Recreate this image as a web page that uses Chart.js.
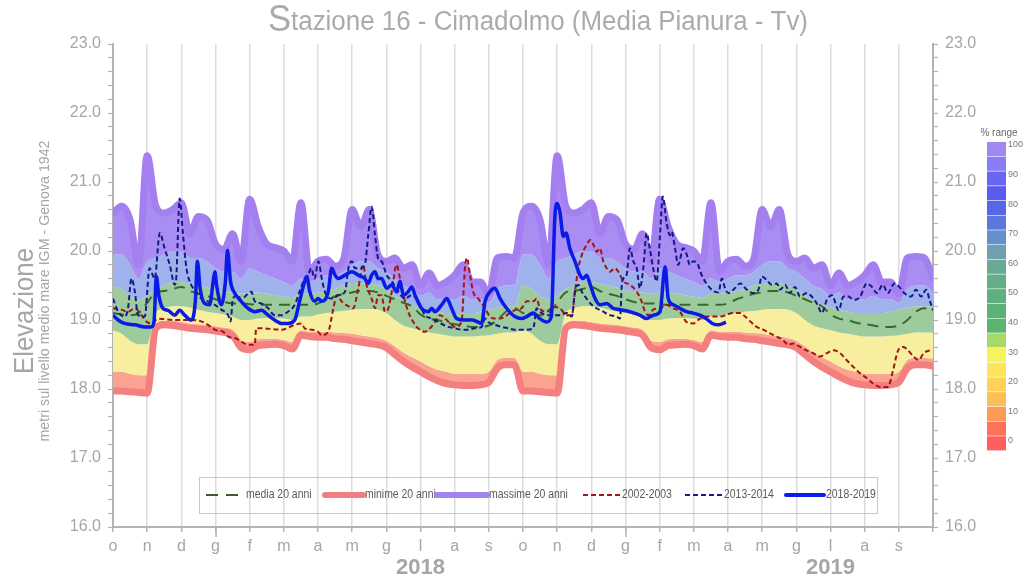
<!DOCTYPE html>
<html><head><meta charset="utf-8">
<script src="https://cdn.jsdelivr.net/npm/chart.js@4.4.0/dist/chart.umd.min.js"></script>
<style>html,body{margin:0;padding:0;background:#fff;}canvas{display:block;}</style>
</head><body>
<canvas id="c" width="1023" height="586"></canvas>
<script>
// ---------- DATA ----------
const chartTitle = 'Stazione 16 - Cimadolmo (Media Pianura - Tv)';
const yTitle = 'Elevazione';
const ySubTitle = 'metri sul livello medio mare IGM - Genova 1942';
const monthLetters = ['o','n','d','g','f','m','a','m','g','l','a','s'];
const yearLabels = ['2018','2019'];
const yearLabelMonths = [9, 21];
const rangeLabels = ['100','90','80','70','60','50','40','30','20','10','0'];
const bandStep = 0.25; // months between band samples (one hydrological year, Oct -> Oct)

const minYear = [17.97,17.97,17.96,17.95,17.94,18.88,18.93,18.92,18.90,18.88,18.87,18.86,18.84,18.82,18.78,18.60,18.57,18.63,18.64,18.65,18.63,18.58,18.78,18.76,18.75,18.75,18.73,18.72,18.70,18.68,18.66,18.64,18.60,18.50,18.40,18.32,18.25,18.18,18.12,18.08,18.06,18.05,18.05,18.06,18.10,18.30,18.35,18.35,18.33];
const p15Year = [18.25,18.25,18.22,18.20,18.20,18.95,18.99,18.99,18.97,18.95,18.94,18.93,18.91,18.89,18.86,18.70,18.68,18.72,18.73,18.73,18.71,18.68,18.85,18.83,18.83,18.83,18.82,18.81,18.80,18.78,18.76,18.74,18.70,18.62,18.53,18.46,18.40,18.33,18.28,18.25,18.22,18.22,18.22,18.22,18.25,18.42,18.45,18.45,18.44];
const p35Year = [18.85,18.80,18.70,18.65,18.65,19.10,19.17,19.20,19.20,19.18,19.15,19.12,19.10,19.08,19.05,19.00,19.00,19.02,19.03,19.03,19.02,19.00,19.05,19.05,19.08,19.10,19.12,19.13,19.15,19.16,19.16,19.15,19.10,19.00,18.92,18.88,18.85,18.82,18.80,18.78,18.76,18.76,18.76,18.77,18.78,18.80,18.82,18.82,18.82];
const p60Year = [19.50,19.45,19.35,19.30,19.35,19.45,19.50,19.55,19.55,19.52,19.50,19.47,19.43,19.40,19.40,19.38,19.40,19.40,19.38,19.36,19.34,19.32,19.38,19.38,19.40,19.42,19.45,19.50,19.52,19.53,19.53,19.50,19.45,19.35,19.28,19.22,19.18,19.15,19.12,19.10,19.10,19.10,19.10,19.12,19.15,19.18,19.20,19.20,19.20];
const p90Year = [19.95,19.95,19.80,19.60,19.85,19.90,19.95,20.00,20.00,19.90,19.90,19.85,19.75,19.70,19.70,19.60,19.75,19.70,19.65,19.60,19.55,19.50,19.60,19.55,19.60,19.65,19.65,19.70,19.80,19.85,19.85,19.75,19.70,19.60,19.50,19.45,19.35,19.40,19.30,19.30,19.30,19.35,19.30,19.30,19.25,19.45,19.50,19.50,19.40];
const maxYear = [20.55,20.65,20.45,19.80,21.38,20.65,20.55,20.60,20.70,20.25,20.50,20.45,20.10,20.02,20.25,19.85,20.75,20.35,20.10,20.05,20.00,19.85,20.70,19.70,19.85,19.88,19.78,19.88,20.60,20.35,20.60,19.95,19.85,19.90,19.75,19.80,19.50,19.68,19.50,19.55,19.65,19.80,19.55,19.55,19.38,19.90,19.92,19.90,19.60];
const mediaYear = [19.10,19.08,19.07,19.10,19.25,19.40,19.42,19.45,19.48,19.42,19.38,19.35,19.30,19.26,19.24,19.24,19.23,19.22,19.22,19.22,19.22,19.22,19.22,19.22,19.24,19.30,19.34,19.38,19.40,19.42,19.42,19.40,19.35,19.30,19.25,19.20,19.08,19.02,19.00,18.96,18.94,18.92,18.90,18.90,18.92,19.00,19.12,19.17,19.15];

const obs1819Months = [0.00,0.15,0.34,0.64,0.93,1.12,1.20,1.27,1.34,1.46,1.61,1.81,1.95,2.10,2.29,2.41,2.47,2.55,2.68,2.83,2.93,2.98,3.03,3.17,3.29,3.35,3.44,3.56,3.75,3.95,4.15,4.34,4.54,4.73,4.93,5.12,5.32,5.46,5.61,5.67,5.76,5.90,6.00,6.11,6.30,6.40,6.50,6.59,6.79,6.99,7.18,7.37,7.47,7.57,7.67,7.76,7.86,8.01,8.16,8.30,8.40,8.50,8.64,8.74,8.84,9.03,9.23,9.33,9.42,9.62,9.77,9.91,10.06,10.30,10.50,10.69,10.79,10.89,11.03,11.18,11.33,11.52,11.76,11.96,12.11,12.30,12.49,12.69,12.83,12.93,13.00,13.08,13.18,13.26,13.37,13.52,13.67,13.76,13.86,13.97,14.11,14.25,14.45,14.64,14.84,15.13,15.42,15.62,15.81,16.01,16.16,16.25,16.40,16.59,16.79,16.98,17.18,17.36,17.54,17.73,17.94];
const obs1819Levels = [19.07,19.00,18.95,18.93,18.90,18.90,18.97,19.63,19.36,19.17,19.14,19.07,19.14,19.07,19.00,19.27,19.85,19.46,19.24,19.22,19.55,19.70,19.51,19.22,19.56,20.01,19.56,19.39,19.27,19.17,19.12,19.14,19.07,19.00,18.95,18.95,19.00,19.27,19.56,19.63,19.41,19.27,19.31,19.27,19.41,19.75,19.65,19.60,19.65,19.70,19.65,19.60,19.53,19.65,19.70,19.60,19.60,19.46,19.51,19.41,19.56,19.36,19.41,19.48,19.36,19.17,19.12,19.17,19.12,19.22,19.31,19.17,19.02,19.00,19.00,18.97,18.95,19.27,19.41,19.46,19.31,19.17,19.05,19.02,19.05,19.10,19.02,18.97,19.05,20.47,20.69,20.57,20.21,20.26,20.04,19.85,19.65,19.60,19.65,19.51,19.31,19.22,19.24,19.17,19.15,19.12,19.07,19.02,19.07,19.12,19.77,19.31,19.22,19.17,19.12,19.10,19.07,19.02,18.95,18.93,18.97];

const y1314Months = [0.00,0.15,0.34,0.44,0.54,0.64,0.73,0.93,1.07,1.22,1.37,1.51,1.66,1.81,1.85,1.95,2.05,2.15,2.29,2.44,2.58,2.78,2.98,3.17,3.37,3.44,3.51,3.66,3.75,3.90,4.05,4.15,4.34,4.54,4.73,4.93,5.12,5.32,5.46,5.61,5.71,5.80,5.90,6.01,6.11,6.20,6.40,6.59,6.79,6.89,6.99,7.08,7.23,7.37,7.47,7.57,7.67,7.76,7.86,8.01,8.16,8.35,8.55,8.74,8.93,9.13,9.33,9.52,9.81,10.01,10.20,10.40,10.59,10.79,10.89,10.98,11.18,11.38,11.57,11.76,11.96,12.11,12.30,12.40,12.49,12.69,13.08,13.28,13.43,13.52,13.62,13.72,13.86,14.01,14.15,14.35,14.54,14.74,14.84,14.89,14.94,15.03,15.13,15.23,15.33,15.42,15.52,15.62,15.71,15.81,15.91,16.01,16.09,16.20,16.30,16.35,16.45,16.54,16.69,16.79,16.88,16.98,17.09,17.23,17.38,17.57,17.72,17.82,17.92,18.01,18.16,18.36,18.55,18.74,18.89,18.99,19.13,19.28,19.43,19.53,19.67,19.81,19.96,20.11,20.30,20.45,20.60,20.75,20.89,21.04,21.24,21.38,21.53,21.67,21.87,22.06,22.21,22.36,22.53,22.68,22.87,23.01,23.16,23.36,23.50,23.65,23.80,23.90,24.00];
const y1314Levels = [19.31,19.12,19.05,19.17,19.60,19.41,19.07,19.05,19.75,19.60,20.26,20.04,19.80,19.51,19.60,20.76,20.23,19.75,19.51,19.41,19.31,19.27,19.22,19.15,19.07,18.98,19.31,19.36,19.29,19.36,19.41,19.27,19.24,19.17,19.07,19.07,19.12,19.22,19.41,19.60,19.65,19.75,19.60,19.85,19.60,19.41,19.31,19.36,19.41,19.75,19.85,19.75,19.75,19.80,20.23,20.64,20.23,19.89,19.85,19.65,19.56,19.41,19.31,19.36,19.27,19.07,19.02,18.97,18.90,18.88,18.86,18.86,18.88,18.90,19.02,18.97,18.93,18.90,18.88,18.86,18.86,18.86,18.88,19.17,19.12,19.07,19.07,19.10,19.05,19.41,19.51,19.41,19.31,19.22,19.17,19.12,19.07,19.05,19.02,19.50,19.60,19.65,20.04,19.85,19.75,19.46,19.75,20.26,20.04,19.75,19.56,20.23,20.79,20.42,20.23,20.28,20.04,19.80,20.04,19.95,19.80,19.85,19.83,19.65,19.52,19.42,19.40,19.60,19.45,19.39,19.44,19.53,19.44,19.39,19.44,19.63,19.58,19.51,19.53,19.44,19.51,19.39,19.48,19.34,19.39,19.34,19.24,19.10,19.29,19.36,19.14,19.34,19.34,19.29,19.34,19.53,19.48,19.39,19.51,19.39,19.53,19.48,19.39,19.34,19.44,19.34,19.44,19.29,19.14];

const y0203Months = [0.00,0.24,0.44,0.64,0.83,0.97,1.12,1.32,1.81,2.29,2.58,2.78,2.98,3.22,3.37,3.61,3.75,3.95,4.15,4.19,4.34,4.93,5.32,5.51,5.61,5.80,6.00,6.11,6.30,6.45,6.55,6.69,6.89,7.03,7.18,7.32,7.42,7.57,7.67,7.76,7.86,7.96,8.06,8.16,8.30,8.40,8.50,8.64,8.79,8.93,9.13,9.28,9.42,9.57,9.72,9.91,10.01,10.20,10.30,10.36,10.45,10.54,10.69,10.89,11.03,11.18,11.33,11.47,11.67,11.81,11.96,12.11,12.30,12.40,12.49,12.69,12.89,13.08,13.28,13.43,13.52,13.62,13.72,13.86,13.97,14.06,14.16,14.25,14.35,14.45,14.54,14.69,14.79,14.94,15.13,15.33,15.47,15.57,15.67,15.81,16.01,16.20,16.40,16.59,16.79,16.98,17.18,17.38,17.77,18.15,18.36,18.50,18.65,18.84,19.03,19.22,19.42,19.61,19.76,19.91,20.11,20.30,20.49,20.68,20.89,21.08,21.28,21.47,21.67,21.86,22.06,22.25,22.46,22.68,22.83,22.98,23.13,23.27,23.43,23.58,23.73,23.91];
const y0203Levels = [19.17,19.15,19.12,19.17,19.07,18.98,18.95,19.02,19.00,19.00,18.98,18.93,18.86,18.83,18.76,18.73,18.69,18.64,18.64,18.88,18.88,18.86,18.93,18.95,18.88,18.86,18.83,18.78,18.83,19.17,19.36,19.27,19.20,19.17,19.46,19.80,19.51,19.31,19.17,19.36,19.36,19.12,19.17,19.41,19.80,19.60,19.36,19.12,18.97,18.88,18.83,18.88,18.97,19.07,19.02,18.93,18.90,18.97,19.75,19.90,19.65,19.41,19.31,19.17,19.05,19.02,19.02,19.05,19.12,19.15,19.17,19.27,19.27,19.31,19.17,19.12,19.19,19.17,19.07,19.07,19.41,19.75,19.94,20.09,20.16,20.09,19.99,20.04,19.85,19.75,19.70,19.75,19.70,19.56,19.51,19.41,19.27,19.12,19.07,19.15,19.17,19.22,19.17,19.12,18.97,18.95,19.02,19.05,19.05,19.10,19.10,19.05,18.98,18.90,18.86,18.81,18.76,18.71,18.64,18.66,18.61,18.56,18.52,18.47,18.52,18.56,18.52,18.42,18.32,18.23,18.16,18.08,18.03,18.03,18.27,18.56,18.61,18.56,18.47,18.42,18.52,18.56];

// ---------- BUILD ----------
function twoYears(arr){
  const out = [];
  for (let k = 0; k < 48; k++) out.push({x: k*bandStep, y: arr[k]});
  for (let k = 0; k < arr.length; k++) out.push({x: 12 + k*bandStep, y: arr[k]});
  return out;
}
function pts(ms, vs){ return ms.map((m,i)=>({x:m, y:vs[i]})); }

const FONT = '"Liberation Sans", Arial, sans-serif';
const GREY = '#a6a6a6';
const none = 'rgba(0,0,0,0)';

const legendItems = [
  {text:'media 20 anni', color:'#3d5a33', width:2, dash:[12,8], x0:206, x1:244},
  {text:'minime 20 anni', color:'#f08080', width:6, dash:[], x0:325, x1:363},
  {text:'massime 20 anni', color:'#a383f0', width:6, dash:[], x0:437, x1:487},
  {text:'2002-2003', color:'#a01818', width:2, dash:[5,3], x0:583, x1:620},
  {text:'2013-2014', color:'#1a1a8a', width:2, dash:[5,3], x0:685, x1:722},
  {text:'2018-2019', color:'#0a1ee6', width:4, dash:[], x0:786, x1:824}
];
const rangeColors = ['#a088f0','#8a7cf4','#6a66f4','#5a5cf0','#5866e6','#5d78dc','#6690cc','#70a0b0','#6aaa94','#64ae88','#5fb07e','#5cb176','#5db371','#a8d868','#f6f35c','#fde55a','#fdd257','#fdbe57','#fd9a55','#fd7358','#fd5f5f'];

const decor = {
  id: 'decor',
  beforeDraw(chart){
    const c = chart.ctx; c.save(); c.fillStyle = '#fff'; c.fillRect(0,0,chart.width,chart.height); c.restore();
  },
  afterDraw(chart){
    const c = chart.ctx, ca = chart.chartArea, xs = chart.scales.x;
    c.save();
    // Title
    c.fillStyle = '#ababab'; c.textBaseline = 'alphabetic'; c.textAlign = 'left';
    const f1 = '36px "Liberation Sans Narrow", ' + FONT, f2 = '27px "Liberation Sans Narrow", ' + FONT;
    c.font = f1; const w1 = c.measureText(chartTitle[0]).width;
    c.font = f2; const w2 = c.measureText(chartTitle.slice(1)).width;
    const tw = 540, sx = tw/(w1+w2);
    c.save(); c.translate(538 - tw/2, 30); c.scale(sx,1);
    c.font = f1; c.fillText(chartTitle[0], 0, 1);
    c.font = f2; c.fillText(chartTitle.slice(1), w1, 0);
    c.restore();
    // Y titles
    c.fillStyle = GREY; c.textAlign = 'center'; c.textBaseline = 'middle';
    const fitRot = (txt, x, y, font, len) => {
      c.font = font; const w = c.measureText(txt).width;
      c.save(); c.translate(x, y); c.rotate(-Math.PI/2); c.scale(len/w, 1); c.fillText(txt, 0, 0); c.restore();
    };
    fitRot(yTitle, 26, 311, '27px ' + FONT, 126);
    fitRot(ySubTitle, 45, 291, '15px ' + FONT, 301);
    // Year labels
    c.font = 'bold 22px ' + FONT; c.fillStyle = GREY;
    yearLabels.forEach((t,i)=>{ c.fillText(t, xs.getPixelForValue(yearLabelMonths[i]), 568); });
    // January long ticks
    c.strokeStyle = '#b3b3b3'; c.lineWidth = 1.5;
    [3,15].forEach(v=>{ const px = Math.round(xs.getPixelForValue(v)); c.beginPath(); c.moveTo(px, ca.bottom); c.lineTo(px, ca.bottom+10); c.stroke(); });
    // Legend box
    c.strokeStyle = '#c8c8c8'; c.lineWidth = 1;
    c.strokeRect(199.5, 477.5, 678, 36);
    c.font = '12px ' + FONT; c.textAlign = 'left'; c.textBaseline = 'middle';
    legendItems.forEach(it=>{
      c.save(); c.strokeStyle = it.color; c.lineWidth = it.width; c.setLineDash(it.dash); c.lineCap = it.dash.length ? 'butt' : 'round';
      c.beginPath(); c.moveTo(it.x0, 495); c.lineTo(it.x1, 495); c.stroke(); c.restore();
      c.save(); c.translate(it.x1 + 2, 495); c.scale(0.87, 1);
      c.fillStyle = '#5a5a5a'; c.fillText(it.text, 0, 0); c.restore();
    });
    // % range colour scale
    c.fillStyle = '#6a6a6a'; c.font = '10px ' + FONT; c.textAlign = 'center';
    c.fillText('% range', 999, 133);
    const top = 142, bot = 451, h = (bot-top)/rangeColors.length;
    rangeColors.forEach((col,i)=>{ c.fillStyle = col; c.fillRect(987, top + i*h, 19, h - 0.6); });
    c.fillStyle = '#7a7a7a'; c.font = '9px ' + FONT; c.textAlign = 'left';
    rangeLabels.forEach((t,i)=>{ c.fillText(t, 1008, 145 + i*29.6); });
    c.restore();
  }
};

const lineBase = {pointRadius:0, pointHoverRadius:0, cubicInterpolationMode:'monotone', fill:false};
const datasets = [
  Object.assign({}, lineBase, {label:'minime 20 anni', data:twoYears(minYear), borderColor:'#f47f7f', borderWidth:7, order:5, borderCapStyle:'round', borderJoinStyle:'round'}),
  Object.assign({}, lineBase, {label:'p15', data:twoYears(p15Year), borderColor:none, borderWidth:1, backgroundColor:'#f9a390', fill:'-1', order:9}),
  Object.assign({}, lineBase, {label:'p35', data:twoYears(p35Year), borderColor:none, borderWidth:1, backgroundColor:'#f8ef9e', fill:'-1', order:8}),
  Object.assign({}, lineBase, {label:'p60', data:twoYears(p60Year), borderColor:none, borderWidth:1, backgroundColor:'#9ecb9d', fill:'-1', order:7}),
  Object.assign({}, lineBase, {label:'p90', data:twoYears(p90Year), borderColor:none, borderWidth:1, backgroundColor:'#a0b2ec', fill:'-1', order:6}),
  Object.assign({}, lineBase, {label:'massime 20 anni', data:twoYears(maxYear), borderColor:'#a47ff0', borderWidth:7, backgroundColor:'#aa8df2', fill:'-1', order:4, borderCapStyle:'round', borderJoinStyle:'round'}),
  Object.assign({}, lineBase, {label:'media 20 anni', data:twoYears(mediaYear), borderColor:'#356b2a', borderWidth:2, borderDash:[11,7], order:3}),
  Object.assign({}, lineBase, {label:'2002-2003', data:pts(y0203Months,y0203Levels), borderColor:'#a31515', borderWidth:2, borderDash:[5,3], order:2}),
  Object.assign({}, lineBase, {label:'2013-2014', data:pts(y1314Months,y1314Levels), borderColor:'#141a8c', borderWidth:2, borderDash:[5,3], order:1}),
  Object.assign({}, lineBase, {label:'2018-2019', data:pts(obs1819Months,obs1819Levels), borderColor:'#0a1be6', borderWidth:3.5, order:0, borderJoinStyle:'round'})
];

const yTick = v => Math.abs(v - Math.round(v)) < 1e-6 ? v.toFixed(1) : '';
function yAxis(pos, w){
  return {
    type:'linear', position:pos, min:16, max:23,
    afterFit: s => { s.width = w; },
    ticks:{stepSize:0.2, autoSkip:false, maxTicksLimit:100, color:GREY, font:{size:16, family:FONT}, padding:7, callback:yTick},
    grid:{drawOnChartArea:false, drawTicks:true, tickLength:5, tickColor:'#b3b3b3', tickWidth:1.2},
    border:{display:true, color:'#b3b3b3', width:2}
  };
}

new Chart(document.getElementById('c'), {
  type:'line',
  data:{datasets},
  options:{
    responsive:false, animation:false, devicePixelRatio:1, events:[],
    layout:{padding:{top:44, left:0, right:0, bottom:0}},
    plugins:{legend:{display:false}, tooltip:{enabled:false}, title:{display:false}, filler:{drawTime:'beforeDatasetsDraw', propagate:false}},
    scales:{
      x:{type:'linear', position:'bottom', min:0, max:24,
         afterFit: s => { s.height = 59; },
         ticks:{stepSize:1, autoSkip:false, maxTicksLimit:100, maxRotation:0, color:GREY, font:{size:16, family:FONT}, padding:5,
                callback: v => (Number.isInteger(v) && v < 24) ? monthLetters[v % 12] : ''},
         grid:{color:'#dcdcdc', lineWidth:1.5, drawOnChartArea:true, drawTicks:true, tickLength:5, tickColor:'#b3b3b3'},
         border:{display:true, color:'#b3b3b3', width:2}},
      y: yAxis('left', 113),
      y2: yAxis('right', 90)
    }
  },
  plugins:[decor]
});
</script>
</body></html>
